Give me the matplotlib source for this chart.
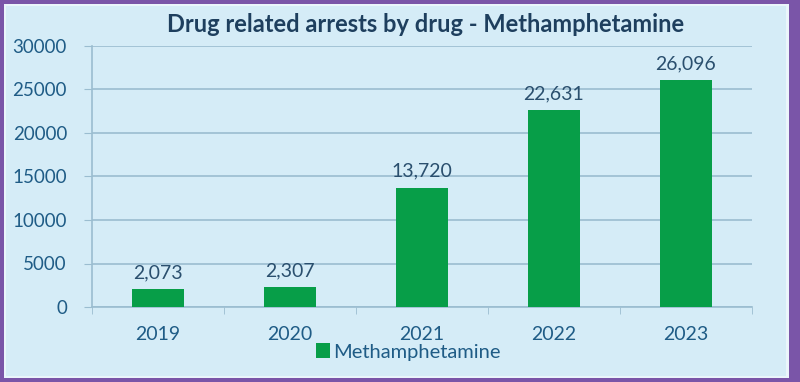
import matplotlib
matplotlib.use("Agg")
import matplotlib.pyplot as plt
from matplotlib.patches import Rectangle

years = ["2019", "2020", "2021", "2022", "2023"]
arrests = [2073, 2307, 13720, 22631, 26096]
value_labels = ["2,073", "2,307", "13,720", "22,631", "26,096"]
yticks = [0, 5000, 10000, 15000, 20000, 25000, 30000]

plt.rcParams['font.family'] = ['Lato', 'DejaVu Sans']

W, H = 800, 382
fig = plt.figure(figsize=(8, 3.82), dpi=100)
fig.patch.set_facecolor("#7A55A8")
# inner panel
fig.patches.append(Rectangle((4 / W, 4 / H), (789 - 4) / W, (378 - 4) / H,
                             transform=fig.transFigure, facecolor="#EAF5FB",
                             edgecolor="none", zorder=-10))
fig.patches.append(Rectangle((6 / W, 6 / H), (786 - 6) / W, (376 - 6) / H,
                             transform=fig.transFigure, facecolor="#D5ECF7",
                             edgecolor="none", zorder=-9))

ax = fig.add_axes([92 / W, (382 - 307) / H, (752 - 92) / W, (307 - 46) / H])
ax.set_facecolor("none")

text_col = "#1F5C86"
grid_col = "#9BBDD0"

x = list(range(len(years)))
bars = ax.bar(x, arrests, width=0.39, color="#079E48", zorder=3,
              label="Methamphetamine")
for xi, v, lab in zip(x, arrests, value_labels):
    ax.text(xi, v + 900, lab, ha="center", va="bottom", fontsize=14,
            color="#2A4F6E")

ax.set_xlim(-0.5, len(years) - 0.5)
ax.set_ylim(0, 30000)
ax.set_yticks(yticks)
ax.set_yticklabels([str(t) for t in yticks])
ax.set_xticks(x)
ax.set_xticklabels(years)
ax.tick_params(axis="y", length=6, color=grid_col, labelsize=13.5,
               labelcolor=text_col, pad=12)
ax.tick_params(axis="x", length=0, labelsize=14, labelcolor=text_col, pad=14)
ax.set_xticks([i - 0.5 for i in range(len(years) + 1)], minor=True)
ax.tick_params(axis="x", which="minor", length=5, color=grid_col, direction="out")

ax.grid(axis="y", color=grid_col, linewidth=1.2, zorder=0)
for s in ["top", "right"]:
    ax.spines[s].set_visible(False)
ax.spines["left"].set_color(grid_col)
ax.spines["bottom"].set_color(grid_col)
ax.spines["left"].set_linewidth(1.2)
ax.spines["bottom"].set_linewidth(1.2)

fig.text(426 / W, 1 - 25 / H, "Drug related arrests by drug - Methamphetamine",
         ha="center", va="center", fontsize=17, fontweight="bold",
         color="#1E3F5E")

fig.legend(handles=[bars], labels=["Methamphetamine"], loc="center",
           bbox_to_anchor=(408 / W, 1 - 352 / H), frameon=False, fontsize=14.5,
           labelcolor=text_col, handlelength=0.7, handleheight=0.7,
           handletextpad=0.15)

fig.savefig("out.png", dpi=100, facecolor=fig.get_facecolor())
